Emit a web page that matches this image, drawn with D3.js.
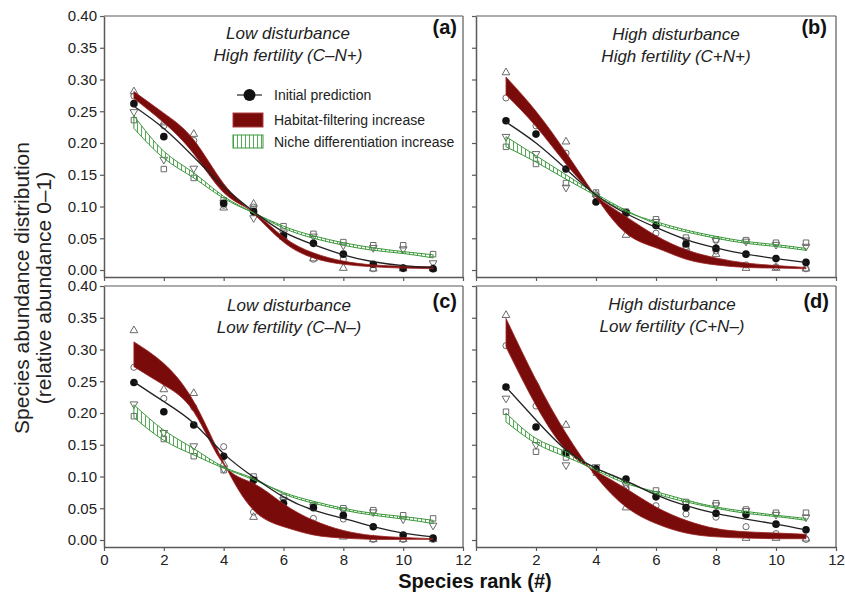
<!DOCTYPE html>
<html><head><meta charset="utf-8">
<script src="https://cdn.jsdelivr.net/npm/d3@7"></script>
<style>body{margin:0;background:#fff}svg{font-family:"Liberation Sans",Arial,sans-serif}</style>
</head><body>
<svg id="chart" width="845" height="594"></svg>
<script>
// ---------------- DATA ----------------
const ranks = [1,2,3,4,5,6,7,8,9,10,11];
const xTicks = [0,2,4,6,8,10,12];
const yTicks = [0,0.05,0.10,0.15,0.20,0.25,0.30,0.35,0.40];
const panelLabels = ["(a)","(b)","(c)","(d)"];
const titleLine1 = ["Low disturbance","High disturbance","Low disturbance","High disturbance"];
const titleLine2 = ["High fertility (C\u2013N+)","High fertility (C+N+)","Low fertility (C\u2013N\u2013)","Low fertility (C+N\u2013)"];
const legendLabels = ["Initial prediction","Habitat-filtering increase","Niche differentiation increase"];
const xTitle = "Species rank (#)";
const yTitle1 = "Species abundance distribution";
const yTitle2 = "(relative abundance 0\u20131)";

// Panel (a)
const dotsA   = [0.262,0.210,0.195,0.105,0.092,0.054,0.042,0.025,0.009,0.003,0.002];
const lineA   = [0.258,0.223,0.178,0.131,0.092,0.060,0.040,0.024,0.013,0.007,0.004];
const hfTA    = [0.281,0.247,0.205,0.136,0.089,0.044,0.019,0.009,0.005,0.003,0.002];
const hfCA    = [0.270,0.232,0.183,0.122,0.091,0.052,0.027,0.014,0.008,0.006,0.005];
const ndDA    = [0.243,0.187,0.153,0.116,0.090,0.066,0.050,0.039,0.031,0.026,0.019];
const ndSA    = [0.223,0.176,0.145,0.113,0.090,0.069,0.054,0.043,0.035,0.029,0.024];
const triUpA  = [0.281,0.232,0.214,0.098,0.104,0.052,0.018,0.003,0.002,0.002,0.002];
const circA   = [0.274,0.227,0.204,0.102,0.099,0.055,0.017,0.017,0.002,0.002,0.002];
const triDnA  = [0.249,0.174,0.160,0.106,0.082,0.058,0.053,0.039,0.035,0.033,0.011];
const sqA     = [0.236,0.159,0.145,0.110,0.095,0.069,0.057,0.044,0.039,0.039,0.025];

// Panel (b)
const dotsB   = [0.235,0.214,0.159,0.107,0.090,0.070,0.041,0.034,0.025,0.018,0.012];
const lineB   = [0.233,0.200,0.159,0.118,0.089,0.067,0.048,0.035,0.025,0.018,0.012];
const hfTB    = [0.304,0.250,0.185,0.115,0.058,0.035,0.017,0.008,0.004,0.003,0.002];
const hfCB    = [0.276,0.226,0.167,0.117,0.084,0.054,0.032,0.019,0.011,0.007,0.004];
const ndDB    = [0.210,0.180,0.150,0.120,0.094,0.073,0.060,0.050,0.042,0.037,0.031];
const ndSB    = [0.194,0.170,0.143,0.117,0.092,0.076,0.063,0.053,0.045,0.040,0.034];
const triUpB  = [0.311,0.240,0.202,0.119,0.055,0.048,0.035,0.025,0.003,0.003,0.002];
const circB   = [0.271,0.227,0.184,0.117,0.088,0.058,0.037,0.030,0.008,0.005,0.002];
const triDnB  = [0.210,0.183,0.130,0.116,0.090,0.076,0.047,0.046,0.045,0.040,0.037];
const sqB     = [0.194,0.167,0.137,0.122,0.092,0.080,0.051,0.048,0.047,0.043,0.043];

// Panel (c)
const dotsC   = [0.248,0.202,0.181,0.132,0.094,0.058,0.051,0.039,0.021,0.008,0.003];
const lineC   = [0.249,0.218,0.184,0.136,0.099,0.068,0.047,0.034,0.021,0.011,0.005];
const hfTC    = [0.312,0.278,0.218,0.122,0.047,0.021,0.008,0.003,0.001,0.001,0.001];
const hfCC    = [0.273,0.244,0.202,0.119,0.089,0.057,0.031,0.015,0.007,0.004,0.002];
const ndDC    = [0.213,0.173,0.144,0.115,0.097,0.073,0.058,0.047,0.039,0.033,0.026];
const ndSC    = [0.193,0.157,0.134,0.113,0.095,0.075,0.061,0.050,0.042,0.037,0.031];
const triUpC  = [0.330,0.237,0.231,0.120,0.036,0.040,0.025,0.005,0.001,0.001,0.001];
const circC   = [0.272,0.223,0.209,0.147,0.044,0.046,0.034,0.033,0.001,0.001,0.001];
const triDnC  = [0.214,0.169,0.148,0.112,0.095,0.063,0.053,0.047,0.044,0.033,0.023];
const sqC     = [0.195,0.159,0.132,0.110,0.100,0.068,0.055,0.050,0.047,0.039,0.034];

// Panel (d)
const dotsD   = [0.241,0.178,0.137,0.112,0.096,0.068,0.051,0.042,0.040,0.025,0.016];
const lineD   = [0.241,0.189,0.142,0.113,0.093,0.071,0.054,0.042,0.033,0.025,0.016];
const hfTD    = [0.349,0.252,0.168,0.100,0.052,0.026,0.011,0.005,0.003,0.002,0.002];
const hfCD    = [0.304,0.212,0.142,0.108,0.081,0.052,0.031,0.018,0.013,0.011,0.009];
const ndDD    = [0.200,0.160,0.139,0.113,0.092,0.073,0.060,0.050,0.042,0.037,0.031];
const ndSD    = [0.186,0.152,0.131,0.110,0.089,0.076,0.063,0.052,0.045,0.039,0.034];
const triUpD  = [0.354,0.245,0.181,0.110,0.051,0.033,0.021,0.012,0.003,0.003,0.002];
const circD   = [0.306,0.211,0.140,0.108,0.081,0.054,0.041,0.036,0.021,0.010,0.001];
const triDnD  = [0.223,0.150,0.118,0.115,0.087,0.073,0.057,0.055,0.046,0.040,0.036];
const sqD     = [0.202,0.139,0.130,0.106,0.084,0.078,0.060,0.058,0.048,0.043,0.043];

const panelData = [
  {dots:dotsA,line:lineA,hfT:hfTA,hfC:hfCA,ndD:ndDA,ndS:ndSA,triUp:triUpA,circ:circA,triDn:triDnA,sq:sqA},
  {dots:dotsB,line:lineB,hfT:hfTB,hfC:hfCB,ndD:ndDB,ndS:ndSB,triUp:triUpB,circ:circB,triDn:triDnB,sq:sqB},
  {dots:dotsC,line:lineC,hfT:hfTC,hfC:hfCC,ndD:ndDC,ndS:ndSC,triUp:triUpC,circ:circC,triDn:triDnC,sq:sqC},
  {dots:dotsD,line:lineD,hfT:hfTD,hfC:hfCD,ndD:ndDD,ndS:ndSD,triUp:triUpD,circ:circD,triDn:triDnD,sq:sqD}
];

// ---------------- LAYOUT ----------------
const layout = [
  {x0:104,x1:463,yTop:16, yBot:277,xLab:false,yLab:true, tx:288,ty1:39, ty2:61, lx:457,ly:34},
  {x0:476,x1:836,yTop:16, yBot:277,xLab:false,yLab:false,tx:676,ty1:40, ty2:62, lx:827,ly:34},
  {x0:104,x1:463,yTop:286,yBot:547,xLab:true, yLab:true, tx:289,ty1:311,ty2:333,lx:457,ly:308},
  {x0:476,x1:836,yTop:286,yBot:547,xLab:true, yLab:false,tx:672,ty1:310,ty2:332,lx:829,ly:308}
];
const yDomain = [-0.011, 0.40];
const axisColor = "#5a5a5a";
const redFill = "#7a0b0b", redStroke = "#9a2323";
const greenStroke = "#3b983b", greenHatch = "#55aa55";
const markerColor = "#6a6a6a";

const svg = d3.select("#chart");
const defs = svg.append("defs");
const pat = defs.append("pattern").attr("id","hatch").attr("patternUnits","userSpaceOnUse")
  .attr("width",4).attr("height",8);
pat.append("line").attr("x1",1.5).attr("x2",1.5).attr("y1",0).attr("y2",8)
  .attr("stroke",greenHatch).attr("stroke-width",1);

const symUp = d3.symbol().type(d3.symbolTriangle).size(26);
const symCirc = d3.symbol().type(d3.symbolCircle).size(30);
const symSq = d3.symbol().type(d3.symbolSquare).size(30);

layout.forEach((L, i) => {
  const D = panelData[i];
  const x = d3.scaleLinear().domain([0,12]).range([L.x0, L.x1]);
  const y = d3.scaleLinear().domain(yDomain).range([L.yBot, L.yTop]);
  const g = svg.append("g");

  // frame top/right
  g.append("line").attr("x1",x(0)).attr("x2",x(12)).attr("y1",y(0.40)).attr("y2",y(0.40))
    .attr("stroke",axisColor).attr("stroke-width",1.2);
  g.append("line").attr("x1",x(12)).attr("x2",x(12)).attr("y1",y(0.40)).attr("y2",y(yDomain[0]))
    .attr("stroke",axisColor).attr("stroke-width",1.2);

  // axes
  const xa = d3.axisBottom(x).tickValues(xTicks).tickSizeInner(4).tickSizeOuter(0)
    .tickFormat(d => L.xLab ? ((i===3 && d===0) ? "" : d3.format("d")(d)) : "");
  const gx = g.append("g").attr("transform",`translate(0,${L.yBot})`).call(xa);
  const ya = d3.axisLeft(y).tickValues(yTicks).tickSizeInner(4).tickSizeOuter(0)
    .tickFormat(d => L.yLab ? d3.format(".2f")(d) : "");
  const gy = g.append("g").attr("transform",`translate(${L.x0},0)`).call(ya);
  [gx,gy].forEach(a => {
    a.select(".domain").attr("stroke",axisColor).attr("stroke-width",1.5);
    a.selectAll(".tick line").attr("stroke",axisColor).attr("stroke-width",1.2);
    a.selectAll(".tick text").attr("fill","#222").attr("font-size",15)
      .attr("font-family","'Liberation Sans',Arial,sans-serif");
  });

  const pts = k => ranks.map((r,j) => ({r, v:D[k][j]}));
  const curve = d3.curveNatural;

  // open markers
  const mk = (key, sym, rot) => {
    g.selectAll(null).data(pts(key)).enter().append("path")
      .attr("d", sym())
      .attr("transform", d => `translate(${x(d.r)},${y(d.v)})` + (rot ? " rotate(180)" : ""))
      .attr("fill","none").attr("stroke",markerColor).attr("stroke-width",1);
  };
  mk("sq", symSq, false);
  mk("triDn", symUp, true);
  mk("circ", symCirc, false);
  mk("triUp", symUp, false);

  // black dots
  g.selectAll(null).data(pts("dots")).enter().append("circle")
    .attr("cx", d => x(d.r)).attr("cy", d => y(d.v)).attr("r",3.8).attr("fill","#111");

  // red band
  const bandPts = (a,b) => ranks.map((r,j) => ({r, a:D[a][j], b:D[b][j]}));
  const area = d3.area().x(d => x(d.r)).y0(d => y(d.a)).y1(d => y(d.b)).curve(curve);
  g.append("path").attr("d", area(bandPts("hfT","hfC")))
    .attr("fill",redFill).attr("stroke",redStroke).attr("stroke-width",0.8);
  // green band
  g.append("path").attr("d", area(bandPts("ndD","ndS")))
    .attr("fill","url(#hatch)").attr("stroke",greenStroke).attr("stroke-width",1);

  // black line
  const ln = d3.line().x(d => x(d.r)).y(d => y(d.v)).curve(curve);
  g.append("path").attr("d", ln(pts("line"))).attr("fill","none")
    .attr("stroke","#222").attr("stroke-width",1.3);

  // titles
  g.append("text").attr("x",L.tx).attr("y",L.ty1).attr("text-anchor","middle")
    .attr("font-style","italic").attr("font-size",17).attr("fill","#222").text(titleLine1[i]);
  g.append("text").attr("x",L.tx).attr("y",L.ty2).attr("text-anchor","middle")
    .attr("font-style","italic").attr("font-size",17).attr("fill","#222").text(titleLine2[i]);
  g.append("text").attr("x",L.lx).attr("y",L.ly).attr("text-anchor","end")
    .attr("font-weight","bold").attr("font-size",20).attr("fill","#111").text(panelLabels[i]);
});

// legend (panel a)
const lg = svg.append("g");
lg.append("line").attr("x1",237).attr("x2",262).attr("y1",95).attr("y2",95).attr("stroke","#333").attr("stroke-width",1.3);
lg.append("circle").attr("cx",249.5).attr("cy",95).attr("r",6).attr("fill","#111");
lg.append("rect").attr("x",233).attr("y",113).attr("width",30).attr("height",14)
  .attr("fill",redFill).attr("stroke","#b04040").attr("stroke-width",1);
lg.append("rect").attr("x",233).attr("y",135).attr("width",30).attr("height",13)
  .attr("fill","url(#hatch)").attr("stroke",greenStroke).attr("stroke-width",1);
[100,125,147].forEach((yy,k) => {
  lg.append("text").attr("x",274).attr("y",yy).attr("font-size",14).attr("fill","#222").text(legendLabels[k]);
});

// axis titles
svg.append("text").attr("x",475).attr("y",588).attr("text-anchor","middle")
  .attr("font-weight","bold").attr("font-size",20).attr("fill","#111").text(xTitle);
svg.append("text").attr("transform","translate(29,288) rotate(-90)").attr("text-anchor","middle")
  .attr("font-size",21).attr("fill","#222").text(yTitle1);
svg.append("text").attr("transform","translate(51,288) rotate(-90)").attr("text-anchor","middle")
  .attr("font-size",21).attr("fill","#222").text(yTitle2);
</script>
</body></html>
